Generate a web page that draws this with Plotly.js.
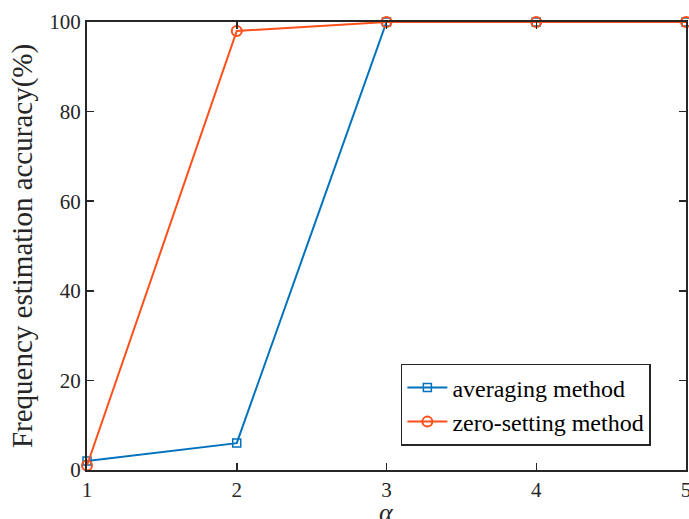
<!DOCTYPE html>
<html><head><meta charset="utf-8">
<script src="https://cdn.plot.ly/plotly-3.0.1.min.js"></script>
<style>html,body{margin:0;padding:0;background:#fff}#plot{width:689px;height:519px}</style>
</head><body><div id="plot"></div>
<script>
const alphaValues = [1, 2, 3, 4, 5];
const averagingAccuracy = [2, 6, 100, 100, 100];
const zeroSettingAccuracy = [1, 98, 100, 100, 100];
const xTickVals = [1, 2, 3, 4, 5];
const yTickVals = [0, 20, 40, 60, 80, 100];

const fontFam = '"Liberation Serif", "DejaVu Serif", serif';
const traces = [
  {x: alphaValues, y: averagingAccuracy, name: 'averaging method', mode: 'lines+markers',
   line: {color: '#0072BD', width: 2}, marker: {symbol: 'square-open', size: 8, color: '#0072BD', line: {width: 1.5}}, cliponaxis: false},
  {x: alphaValues, y: zeroSettingAccuracy, name: 'zero-setting method', mode: 'lines+markers',
   line: {color: '#FF4F1A', width: 2}, marker: {symbol: 'circle-open', size: 10, color: '#FF4F1A', line: {width: 2}}, cliponaxis: false}
];
const layout = {
  width: 689, height: 519,
  margin: {l: 87, r: 3, t: 22, b: 49},
  paper_bgcolor: '#fff', plot_bgcolor: '#fff',
  font: {family: fontFam, size: 21, color: '#262626'},
  showlegend: true,
  legend: {x: 0.524, y: 0.237, xanchor: 'left', yanchor: 'top', bgcolor: '#fff', bordercolor: '#262626', borderwidth: 1.5,
    font: {family: fontFam, size: 24, color: '#000'}, tracegroupgap: 0, itemwidth: 40},
  xaxis: {range: [1, 5], tickvals: xTickVals, ticks: 'inside', ticklen: 7, tickwidth: 1.5, tickcolor: '#262626',
    showline: true, linecolor: '#262626', linewidth: 2, mirror: 'ticks', showgrid: false, zeroline: false,
    ticklabeloverflow: 'allow', tickfont: {size: 21}},
  yaxis: {range: [0, 100], tickvals: yTickVals, ticks: 'inside', ticklen: 7, tickwidth: 1.5, tickcolor: '#262626',
    showline: true, linecolor: '#262626', linewidth: 2, mirror: 'ticks', showgrid: false, zeroline: false,
    ticklabeloverflow: 'allow',
    tickfont: {size: 21}, title: {text: 'Frequency estimation accuracy(%)', font: {size: 29}, standoff: 8}},
  annotations: [{text: '<i>α</i>', xref: 'paper', yref: 'paper', x: 0.5, y: 0, xanchor: 'center', yanchor: 'top',
    yshift: -27, borderpad: 0, showarrow: false, font: {family: fontFam, size: 26, color: '#262626'}}]
};
Plotly.newPlot('plot', traces, layout, {displayModeBar: false, staticPlot: true});
</script></body></html>
